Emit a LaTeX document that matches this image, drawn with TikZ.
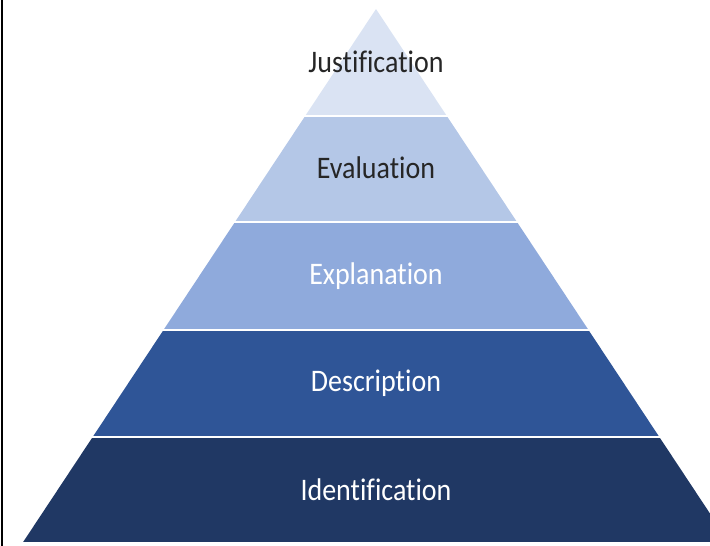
\documentclass[tikz,border=0pt]{standalone}
\usepackage{fontspec}
\setmainfont[Ligatures={NoCommon}]{Carlito}
\definecolor{tierA}{HTML}{DAE3F3}
\definecolor{tierB}{HTML}{B4C7E7}
\definecolor{tierC}{HTML}{8FAADC}
\definecolor{tierD}{HTML}{2F5597}
\definecolor{tierE}{HTML}{203864}
\definecolor{darktext}{HTML}{262626}
\tikzset{
  lbl/.style={font=\fontsize{28}{32}\selectfont, inner sep=0pt, yscale=1.12},
}
\begin{document}
\begin{tikzpicture}[x=1pt,y=-1pt]
\useasboundingbox (0,0) rectangle (710,546);
\begin{scope}
\clip (0,0) rectangle (710,546);
\def\s{0.662}
\def\cx{376}
\def\ap{9}
\fill[tierE] ({\cx-\s*(437-\ap)},437) -- ({\cx+\s*(437-\ap)},437) -- ({\cx+\s*(543-\ap)},543) -- ({\cx-\s*(543-\ap)},543) -- cycle;
\fill[tierD] ({\cx-\s*(330-\ap)},330) -- ({\cx+\s*(330-\ap)},330) -- ({\cx+\s*(437-\ap)},437) -- ({\cx-\s*(437-\ap)},437) -- cycle;
\fill[tierC] ({\cx-\s*(222-\ap)},222) -- ({\cx+\s*(222-\ap)},222) -- ({\cx+\s*(330-\ap)},330) -- ({\cx-\s*(330-\ap)},330) -- cycle;
\fill[tierB] ({\cx-\s*(116-\ap)},116) -- ({\cx+\s*(116-\ap)},116) -- ({\cx+\s*(222-\ap)},222) -- ({\cx-\s*(222-\ap)},222) -- cycle;
\fill[tierA] (\cx,\ap) -- ({\cx+\s*(116-\ap)},116) -- ({\cx-\s*(116-\ap)},116) -- cycle;
\foreach \yy in {116,222,330,437,543} {
  \draw[white, line width=2pt] (0,\yy) -- (710,\yy);
}
\end{scope}
\draw[black, line width=2pt] (2,0) -- (2,546);
\node[lbl, text=darktext] (just) at (376,62) {Justification};
\node[lbl, text=darktext] (eval) at (376,168) {Evaluation};
\node[lbl, text=white] (expl) at (376,276) {Explanation};
\node[lbl, text=white] (desc) at (376,383) {Description};
\node[lbl, text=white] (iden) at (376,490) {Identification};
\end{tikzpicture}
\end{document}
